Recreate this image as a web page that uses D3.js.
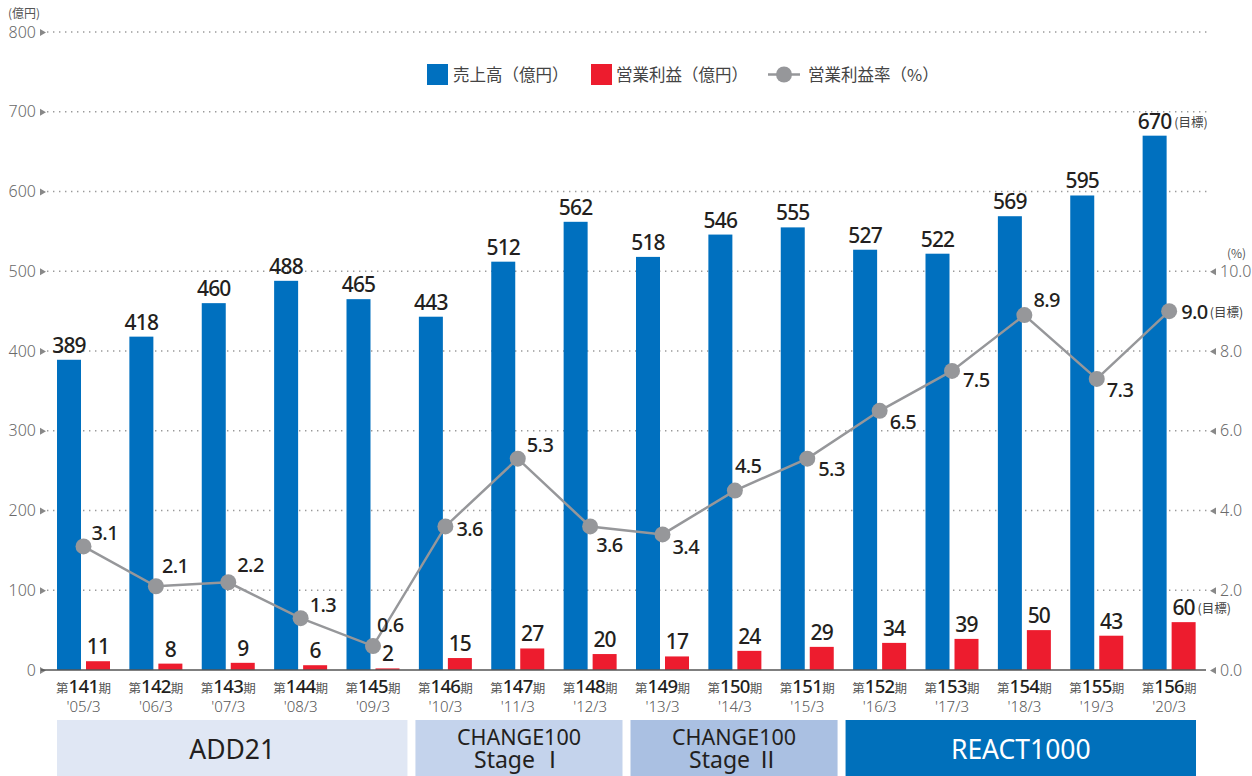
<!DOCTYPE html>
<html>
<head>
<meta charset="utf-8">
<script src="https://cdn.jsdelivr.net/npm/d3@7"></script>
<style>
  body { margin: 0; background: #fff; }
  svg { display: block; font-family: "Noto Sans", "Noto Sans CJK JP", sans-serif; }
  .jp { font-family: "Noto Sans CJK JP", "Noto Sans", sans-serif; }
</style>
</head>
<body>
<svg id="chart"></svg>
<script>
// data
const periods = ['141', '142', '143', '144', '145', '146', '147', '148', '149', '150', '151', '152', '153', '154', '155', '156'];
const years = ["'05/3", "'06/3", "'07/3", "'08/3", "'09/3", "'10/3", "'11/3", "'12/3", "'13/3", "'14/3", "'15/3", "'16/3", "'17/3", "'18/3", "'19/3", "'20/3"];
const sales = [389, 418, 460, 488, 465, 443, 512, 562, 518, 546, 555, 527, 522, 569, 595, 670];
const profit = [11, 8, 9, 6, 2, 15, 27, 20, 17, 24, 29, 34, 39, 50, 43, 60];
const margin = [3.1, 2.1, 2.2, 1.3, 0.6, 3.6, 5.3, 3.6, 3.4, 4.5, 5.3, 6.5, 7.5, 8.9, 7.3, 9.0];
const leftTicks = [0, 100, 200, 300, 400, 500, 600, 700, 800];
const rightTicks = [0, 2, 4, 6, 8, 10];
const phaseNames = [['ADD21'], ['CHANGE100', 'Stage Ⅰ'], ['CHANGE100', 'Stage Ⅱ'], ['REACT1000']];
const phaseCounts = [5, 3, 3, 5];

// where each % label sits relative to its dot [dx, dy of baseline]
const pctLabelOffset = [[8, -6], [6, -13], [9, -10], [9, -6], [4, -14], [11, 10], [9, -7], [6, 26],
  [10, 20], [0, -18], [11, 17], [10, 18], [11, 16], [9, -8], [10, 18], [12, 8]];

const W = 1252, H = 776;
const blue = '#0070bf', red = '#ed1c2e', gray = '#96979a', textDark = '#231f20';

const svg = d3.select('#chart').attr('width', W).attr('height', H);

const x = d3.scaleBand().domain(periods).range([48, 1206]);
const y = d3.scaleLinear().domain([0, 800]).range([670, 32]);
const yPct = d3.scaleLinear().domain([0, 10]).range([y(0), y(500)]);

// gridlines
svg.append('g').selectAll('line')
  .data(leftTicks.filter(d => d > 0))
  .enter().append('line')
  .attr('x1', 47).attr('x2', 1207)
  .attr('y1', d => y(d)).attr('y2', d => y(d))
  .attr('stroke', '#9a9a9a').attr('stroke-width', 1.4)
  .attr('stroke-dasharray', '1.4 4.6');

// left axis
const leftAxis = svg.append('g')
  .attr('transform', 'translate(40,0)')
  .call(d3.axisLeft(y).tickValues(leftTicks).tickSize(0).tickPadding(4));
leftAxis.select('.domain').remove();
leftAxis.selectAll('text')
  .attr('font-size', 16).attr('fill', '#6a6a6a').attr('font-family', '"Noto Sans", sans-serif')
  .attr('font-weight', 300);
leftAxis.selectAll('.tick').append('path')
  .attr('d', 'M0,-3.5L6,0L0,3.5Z').attr('fill', '#888');

// right axis
const rightAxis = svg.append('g')
  .attr('transform', 'translate(1216,0)')
  .call(d3.axisRight(yPct).tickValues(rightTicks).tickSize(0).tickPadding(4).tickFormat(d3.format('.1f')));
rightAxis.select('.domain').remove();
rightAxis.selectAll('text')
  .attr('font-size', 16).attr('fill', '#6a6a6a').attr('font-family', '"Noto Sans", sans-serif')
  .attr('font-weight', 300);
rightAxis.selectAll('.tick').append('path')
  .attr('d', 'M0,-3.5L-6,0L0,3.5Z').attr('fill', '#888');

svg.append('text').attr('class', 'jp').attr('x', 8).attr('y', 18)
  .attr('font-size', 12).attr('fill', '#555').text('(億円)');
svg.append('text').attr('class', 'jp').attr('x', 1227).attr('y', 258)
  .attr('font-size', 12).attr('fill', '#555').text('(%)');

// bars
const barW = 24;
svg.append('g').selectAll('rect')
  .data(sales)
  .enter().append('rect')
  .attr('x', (d, i) => x(periods[i]) + 9)
  .attr('y', d => y(d))
  .attr('width', barW)
  .attr('height', d => y(0) - y(d))
  .attr('fill', blue);

svg.append('g').selectAll('rect')
  .data(profit)
  .enter().append('rect')
  .attr('x', (d, i) => x(periods[i]) + 38)
  .attr('y', d => y(d))
  .attr('width', barW)
  .attr('height', d => y(0) - y(d))
  .attr('fill', red);

// baseline
svg.append('line')
  .attr('x1', 41).attr('x2', 1206)
  .attr('y1', y(0)).attr('y2', y(0))
  .attr('stroke', '#555').attr('stroke-width', 1.5);

// bar labels
const salesLabels = svg.append('g').selectAll('text')
  .data(sales)
  .enter().append('text')
  .attr('x', (d, i) => x(periods[i]) + 9 + barW / 2)
  .attr('y', d => y(d) - 7)
  .attr('text-anchor', 'middle')
  .attr('font-size', 21).attr('font-weight', 500).attr('letter-spacing', -0.8)
  .attr('fill', textDark)
  .text(d => d);

const profitLabels = svg.append('g').selectAll('text')
  .data(profit)
  .enter().append('text')
  .attr('x', (d, i) => x(periods[i]) + 38 + barW / 2)
  .attr('y', d => y(d) - 7)
  .attr('text-anchor', 'middle')
  .attr('font-size', 21).attr('font-weight', 500).attr('letter-spacing', -0.8)
  .attr('fill', textDark)
  .text(d => d);

// margin line
const cx = i => x(periods[i]) + 35.5;
const line = d3.line()
  .x((d, i) => cx(i))
  .y(d => yPct(d));

svg.append('path')
  .datum(margin)
  .attr('d', line)
  .attr('fill', 'none')
  .attr('stroke', gray)
  .attr('stroke-width', 2.5);

svg.append('g').selectAll('circle')
  .data(margin)
  .enter().append('circle')
  .attr('cx', (d, i) => cx(i))
  .attr('cy', d => yPct(d))
  .attr('r', 8)
  .attr('fill', gray);

const pctLabels = svg.append('g').selectAll('text')
  .data(margin)
  .enter().append('text')
  .attr('x', (d, i) => cx(i) + pctLabelOffset[i][0])
  .attr('y', (d, i) => yPct(d) + pctLabelOffset[i][1])
  .attr('font-size', 20).attr('font-weight', 500).attr('letter-spacing', -0.6)
  .attr('fill', textDark)
  .text(d => d3.format('.1f')(d));

// (目標) tags on the last period
function addTarget(sel) {
  const node = sel.nodes()[sel.size() - 1];
  const b = node.getBBox();
  svg.append('text').attr('class', 'jp')
    .attr('x', b.x + b.width + 2)
    .attr('y', +node.getAttribute('y') - 2)
    .attr('font-size', 12.5).attr('fill', '#444')
    .text('(目標)');
}
addTarget(salesLabels);
addTarget(profitLabels);
addTarget(pctLabels);

// x labels
const xl = svg.append('g').selectAll('g')
  .data(periods)
  .enter().append('g')
  .attr('transform', (d, i) => 'translate(' + cx(i) + ',0)');

const xt = xl.append('text')
  .attr('y', 693)
  .attr('text-anchor', 'middle')
  .attr('fill', textDark);
xt.append('tspan').attr('class', 'jp').attr('font-size', 12.5).attr('fill', '#555').text('第');
xt.append('tspan').attr('font-size', 18.5).attr('font-weight', 500).attr('letter-spacing', -0.6).text(d => d);
xt.append('tspan').attr('class', 'jp').attr('font-size', 12.5).attr('fill', '#555').text('期');

xl.append('text')
  .attr('y', 712)
  .attr('text-anchor', 'middle')
  .attr('font-size', 15).attr('font-weight', 300).attr('fill', '#555')
  .text((d, i) => years[i]);

// phase bands
const bx = d3.scaleLinear().domain([0, periods.length]).range([57, 1204]);
const bandColors = ['#e0e7f4', '#c4d3ec', '#aac0e2', '#0070bb'];
let start = 0;
phaseCounts.forEach(function(n, i) {
  const x0 = bx(start), x1 = bx(start + n) - 8;
  const mid = (x0 + x1) / 2;
  svg.append('rect')
    .attr('x', x0).attr('y', 720)
    .attr('width', x1 - x0).attr('height', H - 720)
    .attr('fill', bandColors[i]);
  const lines = phaseNames[i];
  const fill = i === 3 ? '#fff' : textDark;
  if (lines.length > 1) {
    svg.append('text')
      .attr('x', mid).attr('y', 745)
      .attr('text-anchor', 'middle').attr('fill', fill)
      .attr('font-size', 21.5)
      .text(lines[0]);
    svg.append('text')
      .attr('x', mid).attr('y', 768)
      .attr('text-anchor', 'middle').attr('fill', fill)
      .attr('font-size', 23)
      .text(lines[1]);
  } else {
    svg.append('text')
      .attr('x', mid).attr('y', 759)
      .attr('text-anchor', 'middle').attr('fill', fill)
      .attr('font-size', 26.5)
      .text(lines[0]);
  }
  start += n;
});

// legend
const legend = svg.append('g').attr('class', 'jp').attr('font-size', 16.5).attr('fill', '#444');
legend.append('rect').attr('x', 427).attr('y', 64).attr('width', 21).attr('height', 21).attr('fill', blue);
legend.append('text').attr('x', 453).attr('y', 81).text('売上高（億円）');
legend.append('rect').attr('x', 591).attr('y', 64).attr('width', 21).attr('height', 21).attr('fill', red);
legend.append('text').attr('x', 616).attr('y', 81).text('営業利益（億円）');
legend.append('line').attr('x1', 768).attr('x2', 800).attr('y1', 74.5).attr('y2', 74.5)
  .attr('stroke', gray).attr('stroke-width', 2.5);
legend.append('circle').attr('cx', 784).attr('cy', 74.5).attr('r', 8).attr('fill', gray);
legend.append('text').attr('x', 808).attr('y', 81).text('営業利益率（%）');
</script>
</body>
</html>
